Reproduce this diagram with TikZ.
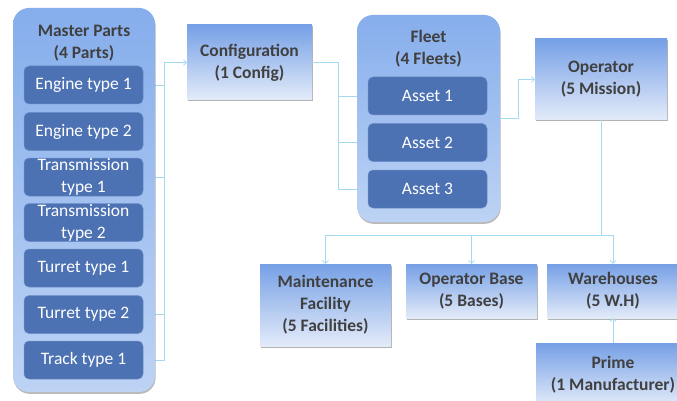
\documentclass[tikz,border=0pt]{standalone}
\usepackage{fontspec}
\setmainfont{Carlito}
\usepackage{tikz}
\usetikzlibrary{arrows.meta, positioning, calc, backgrounds, shadows}
\definecolor{boxtop}{HTML}{76A0E6}
\definecolor{boxlow}{HTML}{E3EBF9}
\definecolor{grouptop}{HTML}{86AEEC}
\definecolor{grouplow}{HTML}{BDD3F4}
\definecolor{partblue}{HTML}{4D72B3}
\definecolor{partedge}{HTML}{6C8DC8}
\definecolor{inktext}{HTML}{404040}
\definecolor{linkcyan}{HTML}{A3DAEF}

\begin{document}
\begin{tikzpicture}[
        x=1pt, y=-1pt,
        box/.style={rectangle, top color=boxtop, bottom color=boxlow, text=inktext, font=\fontsize{17.5}{22}\selectfont\bfseries, align=center, inner sep=0pt, drop shadow={shadow xshift=0.6pt, shadow yshift=-1.5pt, opacity=0.6}},
        group/.style={rectangle, rounded corners=16pt, top color=grouptop, bottom color=grouplow, drop shadow={shadow xshift=0.6pt, shadow yshift=-1.8pt, opacity=0.55}},
        grouptitle/.style={text=inktext, font=\fontsize{17.5}{22}\selectfont\bfseries, align=center},
        part/.style={rectangle, rounded corners=5pt, fill=partblue, draw=partedge, line width=0.5pt, text=white, font=\fontsize{17.5}{22}\selectfont, align=center, minimum width=119pt, minimum height=38pt, inner sep=0pt},
        link/.style={draw=linkcyan, line width=0.7pt},
        arrow/.style={link, -{Straight Barb[length=3pt, width=6pt]}}
    ]

    \useasboundingbox (0,0) rectangle (677,401);
    \clip (0,0) rectangle (677,401);

    \node[group, minimum width=142pt, minimum height=384pt] (mp) at (84,200) {};
    \node[grouptitle] (mpt) at (84,43) {Master Parts\\(4 Parts)};
    \node[part] (e1) at (83.5,85) {Engine type 1};
    \node[part, below=8pt of e1] (e2) {Engine type 2};
    \node[part, below=7pt of e2] (tr1) {Transmission\\type 1};
    \node[part, below=7pt of tr1] (tr2) {Transmission\\type 2};
    \node[part, below=7pt of tr2] (tu1) {Turret type 1};
    \node[part, below=8pt of tu1] (tu2) {Turret type 2};
    \node[part, below=7pt of tu2] (tk1) {Track type 1};

    \node[box, minimum width=125pt, minimum height=75pt] (cfg) at (249.5,62.5) {Configuration\\(1 Config)};

    \node[group, minimum width=143pt, minimum height=207pt] (flt) at (428.5,118.5) {};
    \node[grouptitle] (fltt) at (428.5,49) {Fleet\\(4 Fleets)};
    \node[part] (a1) at (427.5,96) {Asset 1};
    \node[part, below=8pt of a1] (a2) {Asset 2};
    \node[part, below=8pt of a2] (a3) {Asset 3};

    \node[box, minimum width=132pt, minimum height=81pt] (op) at (601,79.5) {Operator\\(5 Mission)};

    \node[box, minimum width=131pt, minimum height=82pt] (mf) at (325.5,305) {Maintenance\\Facility\\(5 Facilities)};
    \node[box, minimum width=131pt, minimum height=54pt] (ob) at (471.5,291) {Operator Base\\(5 Bases)};
    \node[box, minimum width=132pt, minimum height=54pt] (wh) at (613,291) {Warehouses\\(5 W.H)};
    \node[box, minimum width=154pt, minimum height=62pt, below=25pt of wh] (pr) {Prime\\(1 Manufacturer)};

    \coordinate (cfgbus) at ($(cfg.west)+(-22,0)$);
    \coordinate (fltbus) at ($(cfg.east)+(26,0)$);
    \coordinate (opbus) at ($(op.south)+(0,115)$);

    \begin{scope}[on background layer]
    \foreach \p in {e1, tr1, tu2, tk1}
        \draw[link] (\p.east) -| (cfgbus);
    \foreach \a in {a1, a2, a3}
        \draw[arrow] (fltbus) |- (\a.west);
    \end{scope}

    \draw[arrow] (cfgbus) -- (cfg.west);
    \draw[link] (cfg.east) -- (fltbus);
    \draw[arrow] (flt.east) -- ++(18,0) |- (op.west);
    \draw[link] (op.south) -- (opbus);
    \draw[arrow] (opbus) -| (mf.north);
    \draw[arrow] (opbus) -| (ob.north);
    \draw[arrow] (opbus) -| (wh.north);
    \draw[arrow] (pr.north) -- (wh.south);

\end{tikzpicture}
\end{document}
